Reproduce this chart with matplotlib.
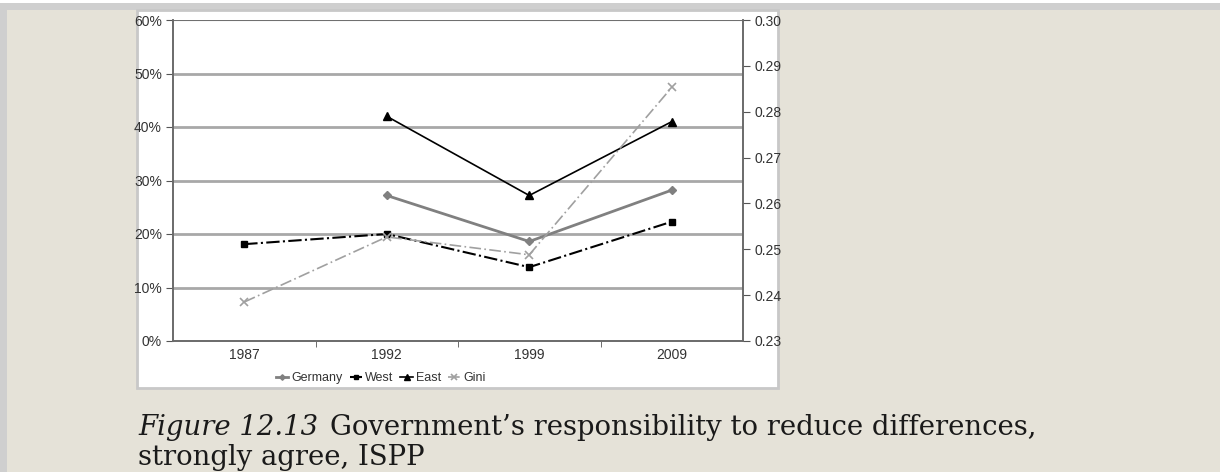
import numpy as np
import matplotlib
matplotlib.use('Agg')
import matplotlib.pyplot as plt
from matplotlib.patches import Rectangle
from matplotlib.ticker import FixedLocator, FuncFormatter

## data (percent, strongly agree) + Gini on right axis
years = ['1987', '1992', '1999', '2009']
germany = [np.nan, 27.2, 18.6, 28.2]
west = [18.1, 20.0, 13.8, 22.3]
east = [np.nan, 42.0, 27.2, 41.0]
gini = [0.2385, 0.2527, 0.2488, 0.2853]

left_ticks = [0, 10, 20, 30, 40, 50, 60]
right_ticks = [0.23, 0.24, 0.25, 0.26, 0.27, 0.28, 0.29, 0.30]

caption_italic = 'Figure 12.13'
caption_line1 = 'Government\u2019s responsibility to reduce differences,'
caption_line2 = 'strongly agree, ISPP'

plt.rcParams['font.family'] = ['Liberation Sans Narrow', 'Liberation Sans', 'DejaVu Sans']

W, H = 1220, 472
fig = plt.figure(figsize=(W / 100, H / 100), dpi=100)
fig.patch.set_facecolor('#e5e2d8')

## page decorations: grey band on top and left, white chart panel
fig.add_artist(Rectangle((0, 1 - 3 / H), 1, 3 / H, transform=fig.transFigure,
                         facecolor='white', edgecolor='none', zorder=0))
fig.add_artist(Rectangle((0, 1 - 10 / H), 1, 7 / H, transform=fig.transFigure,
                         facecolor='#cfcfcf', edgecolor='none', zorder=0))
fig.add_artist(Rectangle((0, 0), 7 / W, 1 - 10 / H, transform=fig.transFigure,
                         facecolor='#cfcfcf', edgecolor='none', zorder=0))
fig.add_artist(Rectangle((137 / W, 1 - 388 / H), 641 / W, 378 / H, transform=fig.transFigure,
                         facecolor='white', edgecolor='#c8c8c8', lw=2, zorder=0))

ax = fig.add_axes([173 / W, 1 - 341 / H, 570 / W, 321 / H])
ax.set_facecolor('none')
ax2 = ax.twinx()

x = np.arange(len(years)) + 0.5

for v in left_ticks[1:-1]:
    ax.axhline(v, color='#a8a8a8', lw=2, zorder=1)
ax.axhline(60, color='#707070', lw=1.5, zorder=1)

ax.plot(x, germany, color='#808080', lw=2, marker='D', ms=4, label='Germany', zorder=3)
ax.plot(x, west, color='black', lw=1.5, ls='-.', marker='s', ms=5, label='West', zorder=3)
ax.plot(x, east, color='black', lw=1.2, marker='^', ms=6, label='East', zorder=3)
ax2.plot(x, gini, color='#a0a0a0', lw=1.2, ls=(0, (7, 2, 1, 2)), marker='x', ms=6,
         mew=1.2, label='Gini', zorder=3)

ax.set_xlim(0, 4)
ax.set_ylim(0, 60)
ax2.set_ylim(0.23, 0.30)

ax.yaxis.set_major_locator(FixedLocator(left_ticks))
ax.yaxis.set_major_formatter(FuncFormatter(lambda v, p: '%d%%' % v))
ax2.yaxis.set_major_locator(FixedLocator(right_ticks))
ax2.yaxis.set_major_formatter(FuncFormatter(lambda v, p: '%.2f' % v))

ax.set_xticks(x)
ax.set_xticklabels(years)
ax.xaxis.set_minor_locator(FixedLocator([1, 2, 3]))
ax.tick_params(axis='x', which='major', length=0, pad=5, labelsize=10, colors='#333333')
ax.tick_params(axis='x', which='minor', length=4, direction='out', color='#555555')
ax.tick_params(axis='y', length=5, direction='out', color='#555555', labelsize=10,
               labelcolor='#333333', pad=3)
ax2.tick_params(axis='y', length=5, direction='out', color='#555555', labelsize=10,
                labelcolor='#333333', pad=3)

for a in (ax, ax2):
    a.spines['top'].set_visible(False)
    for s in ('left', 'right', 'bottom'):
        a.spines[s].set_color('#6a6a6a')
        a.spines[s].set_linewidth(1.2)

handles = ax.get_legend_handles_labels()[0] + ax2.get_legend_handles_labels()[0]
labels = ['Germany', 'West', 'East', 'Gini']
fig.legend(handles, labels, loc='center', bbox_to_anchor=(381 / W, 1 - 378 / H), ncol=4,
           frameon=False, fontsize=9, handlelength=1.0, handletextpad=0.25,
           columnspacing=0.55, markerscale=0.7, labelcolor='#333333')

## caption
fig.text(138 / W, 1 - 435 / H, caption_italic, family='DejaVu Serif', style='italic',
         fontsize=19.8, color='#1a1a1a', va='baseline')
fig.text(330 / W, 1 - 435 / H, caption_line1, family='DejaVu Serif',
         fontsize=19.8, color='#1a1a1a', va='baseline')
fig.text(138 / W, 1 - 465 / H, caption_line2, family='DejaVu Serif',
         fontsize=19.8, color='#1a1a1a', va='baseline')

fig.savefig('out.png', dpi=100, facecolor=fig.get_facecolor())
